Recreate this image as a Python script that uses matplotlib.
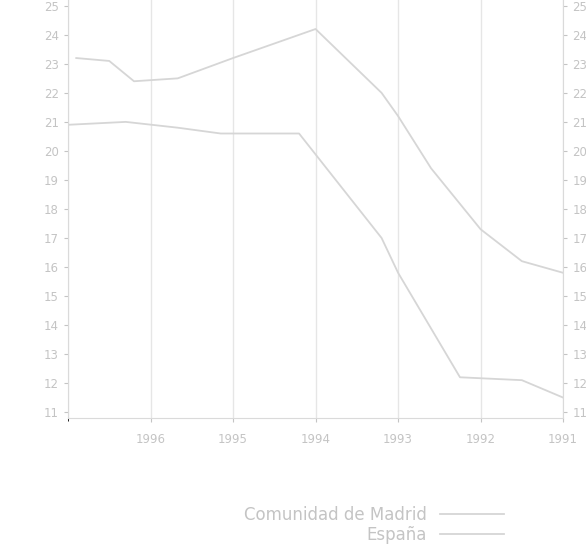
import matplotlib.pyplot as plt

# years run right to left in the reference (1991 at the right edge)
years_espana = [1991.0, 1991.5, 1992.0, 1992.6, 1993.0, 1993.2, 1994.0, 1995.0, 1995.67, 1996.2, 1996.5, 1996.9]
espana = [15.8, 16.2, 17.3, 19.4, 21.2, 22.0, 24.2, 23.2, 22.5, 22.4, 23.1, 23.2]

years_madrid = [1991.0, 1991.5, 1992.25, 1993.0, 1993.2, 1994.2, 1995.15, 1995.67, 1996.3, 1997.0]
madrid = [11.5, 12.1, 12.2, 15.8, 17.0, 20.6, 20.6, 20.8, 21.0, 20.9]

year_ticks = [1991, 1992, 1993, 1994, 1995, 1996]
y_ticks = list(range(11, 26))

line_col = "#d6d6d6"
text_col = "#c4c4c4"
grid_col = "#e6e6e6"

fig = plt.figure(figsize=(5.86, 5.47), dpi=100)
ax = fig.add_axes([0.116, 0.236, 0.845, 0.764])

ax.plot(years_madrid, madrid, color=line_col, lw=1.3, label="Comunidad de Madrid")
ax.plot(years_espana, espana, color=line_col, lw=1.3, label="España")

ax.set_xlim(1997, 1991)
ax.set_ylim(10.8, 25.2)
ax.set_xticks(year_ticks)
ax.set_xticks([1997], minor=True)
ax.set_yticks(y_ticks)
ax.grid(axis="x", which="both", color=grid_col, lw=1)

ax.tick_params(axis="y", left=True, right=True, labelleft=True, labelright=True,
               colors=text_col, labelsize=8.5, length=3)
ax.tick_params(axis="x", colors=text_col, labelsize=8.5, length=3, pad=8)
ax.spines["top"].set_visible(False)
for side in ["left", "right", "bottom"]:
    ax.spines[side].set_color("#dadada")

leg = fig.legend(loc="lower right", bbox_to_anchor=(0.885, -0.022), frameon=False,
                 fontsize=12, markerfirst=False, handlelength=3.8, labelspacing=0.15)
for t in leg.get_texts():
    t.set_color(text_col)

fig.savefig("out.png", dpi=100)
